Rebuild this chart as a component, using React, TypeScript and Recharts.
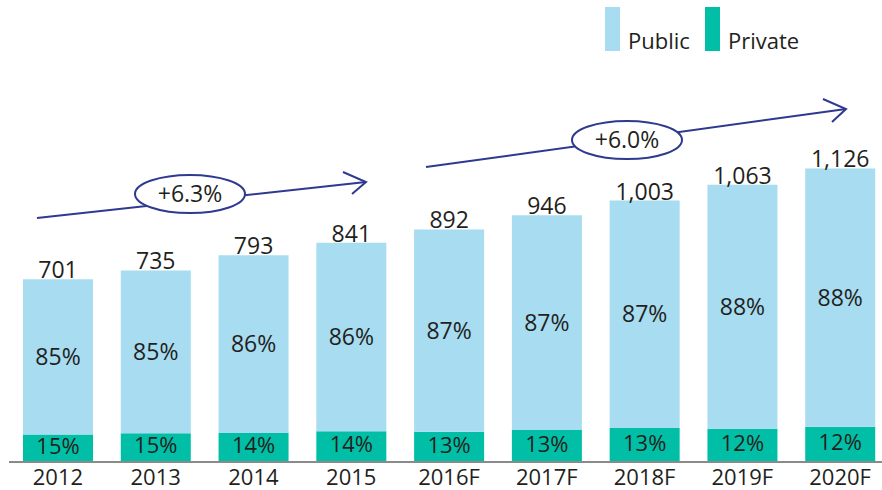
import React from "react";
import { BarChart, Bar, XAxis, YAxis, LabelList } from "recharts";

const years = ["2012", "2013", "2014", "2015", "2016F", "2017F", "2018F", "2019F", "2020F"];
const totals = [701, 735, 793, 841, 892, 946, 1003, 1063, 1126];
const privatePct = [15, 15, 14, 14, 13, 13, 13, 12, 12];
const publicPct = [85, 85, 86, 86, 87, 87, 87, 88, 88];

const PUBLIC_COLOR = "#a7dcf1";
const PRIVATE_COLOR = "#00bfa6";
const TEXT = "#231f20";
const ARROW = "#2e3a8f";
const FONT = "'Open Sans', sans-serif";

const data = years.map((year, i) => {
  const priv = (totals[i] * privatePct[i]) / 100;
  return {
    year,
    total: totals[i],
    private: priv,
    public: totals[i] - priv,
    privatePct: privatePct[i],
    publicPct: publicPct[i],
  };
});

// growth annotations (CAGR arrows)
const growth = [
  { label: "+6.3%", x1: 37, y1: 218, x2: 366, y2: 182, a1: [343, 172], a2: [352, 194], cx: 190, cy: 194 },
  { label: "+6.0%", x1: 426, y1: 167, x2: 846, y2: 109, a1: [823, 99], a2: [832, 122], cx: 627, cy: 140 },
];

const labelStyle = { fill: TEXT, fontSize: 23, fontFamily: FONT };

export default function App() {
  return (
    <div style={{ position: "absolute", left: 0, top: 0, width: 882, height: 490, overflow: "hidden", background: "#fff", fontFamily: FONT }}>
      <BarChart width={890} height={490} data={data} margin={{ top: 97, right: 1, left: 9, bottom: 0 }}>
        <XAxis
          dataKey="year"
          height={28}
          tickLine={false}
          tickSize={0}
          tickMargin={7}
          axisLine={{ stroke: "#8a8a8a", strokeWidth: 2 }}
          tick={{ fill: TEXT, fontSize: 22, fontFamily: FONT }}
          interval={0}
        />
        <YAxis hide domain={[0, 1400]} />
        <Bar dataKey="private" stackId="a" fill={PRIVATE_COLOR} barSize={70} isAnimationActive={false}>
          <LabelList
            dataKey="privatePct"
            position="center"
            dy={-2}
            formatter={(v: any) => `${v}%`}
            style={{ ...labelStyle, fontSize: 22 }}
          />
        </Bar>
        <Bar dataKey="public" stackId="a" fill={PUBLIC_COLOR} barSize={70} isAnimationActive={false}>
          <LabelList dataKey="publicPct" position="center" formatter={(v: any) => `${v}%`} style={labelStyle} />
          <LabelList
            dataKey="total"
            position="top"
            offset={1}
            formatter={(v: any) => Number(v).toLocaleString("en-US")}
            style={labelStyle}
          />
        </Bar>
      </BarChart>

      <svg width={882} height={490} style={{ position: "absolute", left: 0, top: 0, pointerEvents: "none" }}>
        {growth.map((g) => (
          <g key={g.label}>
            <line x1={g.x1} y1={g.y1} x2={g.x2} y2={g.y2} stroke={ARROW} strokeWidth={2} />
            <polyline
              points={`${g.a1[0]},${g.a1[1]} ${g.x2},${g.y2} ${g.a2[0]},${g.a2[1]}`}
              fill="none"
              stroke={ARROW}
              strokeWidth={2}
            />
            <ellipse cx={g.cx} cy={g.cy} rx={55} ry={19} fill="#fff" stroke={ARROW} strokeWidth={2} />
            <text x={g.cx} y={g.cy + 8} textAnchor="middle" fill={TEXT} fontSize={23} fontFamily={FONT}>
              {g.label}
            </text>
          </g>
        ))}
      </svg>

      <div style={{ position: "absolute", left: 605, top: 7, width: 15, height: 44, background: PUBLIC_COLOR }} />
      <div style={{ position: "absolute", left: 628, top: 26, fontSize: 22, color: TEXT, lineHeight: "28px" }}>Public</div>
      <div style={{ position: "absolute", left: 705, top: 7, width: 15, height: 44, background: PRIVATE_COLOR }} />
      <div style={{ position: "absolute", left: 728, top: 26, fontSize: 22, color: TEXT, lineHeight: "28px" }}>Private</div>
    </div>
  );
}
